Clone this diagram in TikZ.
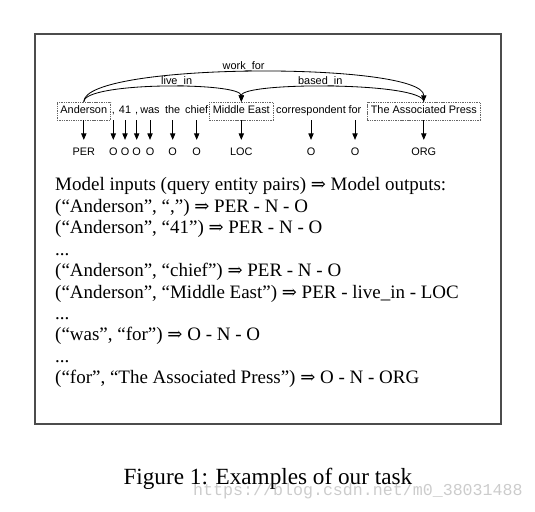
\documentclass[tikz,border=0pt]{standalone}
\usepackage{fontspec}
\setmainfont{Liberation Serif}
\setsansfont{Liberation Sans}
\newfontfamily\markfont{Liberation Mono}
\newfontfamily\symfont[Scale=0.95]{DejaVu Serif}
\usetikzlibrary{arrows.meta,positioning}
\definecolor{FrameClr}{rgb}{0.3,0.3,0.3}
\definecolor{BoxClr}{rgb}{0.4,0.4,0.4}
\definecolor{MarkClr}{rgb}{0.8,0.8,0.8}
\newcommand{\impl}{{\symfont ⇒}}

\begin{document}
\begin{tikzpicture}[x=0.03cm,y=-0.03cm,
  word/.style={font=\sffamily\fontsize{9.3}{11}\selectfont,inner sep=3pt,text height=7pt,text depth=2.3pt},
  ent/.style={word,draw=BoxClr,dash pattern=on 1.2pt off 0.8pt,line width=0.4pt},
  tag/.style={font=\sffamily\fontsize{9.3}{11}\selectfont,inner sep=0pt,text height=6.7pt,text depth=0pt},
  tagarr/.style={-{Triangle[width=4.5pt,length=5.5pt]},line width=0.7pt,shorten >=6.8pt},
  relarr/.style={-{Triangle[width=4.5pt,length=5.5pt]},line width=0.7pt},
  rel/.style={font=\sffamily\fontsize{9.3}{11}\selectfont,inner sep=1.5pt,text depth=0pt,anchor=south},
  txt/.style={font=\fontsize{16.2}{19}\selectfont,anchor=base west,inner sep=0pt}]
\useasboundingbox (0,0) rectangle (535,512);

% Frame round the example.
\draw[FrameClr,line width=1.1pt] (35,34) rectangle (501,424);

% The sentence, entities boxed.
\node[ent]  (w1)  at (83.8,111)  {Anderson};
\node[word] (w2)  at (113.3,111) {,};
\node[word] (w3)  at (125,111)   {41};
\node[word] (w4)  at (136.7,111) {,};
\node[word] (w5)  at (150,111)   {was};
\node[word] (w6)  at (172.7,111) {the};
\node[word] (w7)  at (196.7,111) {chief};
\node[ent]  (w8)  at (241.3,111) {Middle East};
\node[word] (w9)  at (311,111)   {correspondent};
\node[word] (w10) at (355,111)   {for};
\node[ent]  (w11) at (423.8,111) {The Associated Press};

% Entity tags under each word.
\node[tag] (t1)  at (w1 |- 0,152)  {PER};
\node[tag] (t2)  at (w2 |- 0,152)  {O};
\node[tag] (t3)  at (w3 |- 0,152)  {O};
\node[tag] (t4)  at (w4 |- 0,152)  {O};
\node[tag] (t5)  at (w5 |- 0,152)  {O};
\node[tag] (t6)  at (w6 |- 0,152)  {O};
\node[tag] (t7)  at (w7 |- 0,152)  {O};
\node[tag] (t8)  at (w8 |- 0,152)  {LOC};
\node[tag] (t9)  at (w9 |- 0,152)  {O};
\node[tag] (t10) at (w10 |- 0,152) {O};
\node[tag] (t11) at (w11 |- 0,152) {ORG};

\foreach \i in {1,...,11}
  \draw[tagarr] (w\i.south) -- (t\i.north);

% Relations between entities.
\draw[relarr] (w1.north) .. controls +(0,-40) and +(0,-40) .. (w11.north)
  node[rel,pos=0.48] (r1) {work\_for};
\draw[relarr] (w1.north) .. controls +(0,-20) and +(0,-20) .. (w8.north)
  node[rel,pos=0.56] (r2) {live\_in};
\draw[relarr] (w11.north) .. controls +(0,-20) and +(0,-20) .. (w8.north)
  node[rel,pos=0.545] (r3) {based\_in};

% Query pairs and outputs.
\node[txt] (l1)  at (55,190.7) {Model inputs (query entity pairs) \impl{} Model outputs:};
\node[txt] (l2)  at (55,212.2) {(“Anderson”, “,”) \impl{} PER - N - O};
\node[txt] (l3)  at (55,233.6) {(“Anderson”, “41”) \impl{} PER - N - O};
\node[txt] (l4)  at (55,255)   {...};
\node[txt] (l5)  at (55,276.5) {(“Anderson”, “chief”) \impl{} PER - N - O};
\node[txt] (l6)  at (55,298)   {(“Anderson”, “Middle East”) \impl{} PER - live\_in - LOC};
\node[txt] (l7)  at (55,319.4) {...};
\node[txt] (l8)  at (55,340.9) {(“was”, “for”) \impl{} O - N - O};
\node[txt] (l9)  at (55,362.3) {...};
\node[txt] (l10) at (55,383.8) {(“for”, “The Associated Press”) \impl{} O - N - ORG};

% Caption and site mark.
\node[anchor=base west,inner sep=0pt,text=MarkClr,font=\markfont\fontsize{14.2}{16}\selectfont]
  (mark) at (193,495) {https://blog.csdn.net/m0\_38031488};
\node[anchor=base west,inner sep=0pt,font=\fontsize{19.8}{22}\selectfont]
  (cap) at (123.3,484.3) {Figure 1: Examples of our task};

\end{tikzpicture}
\end{document}
